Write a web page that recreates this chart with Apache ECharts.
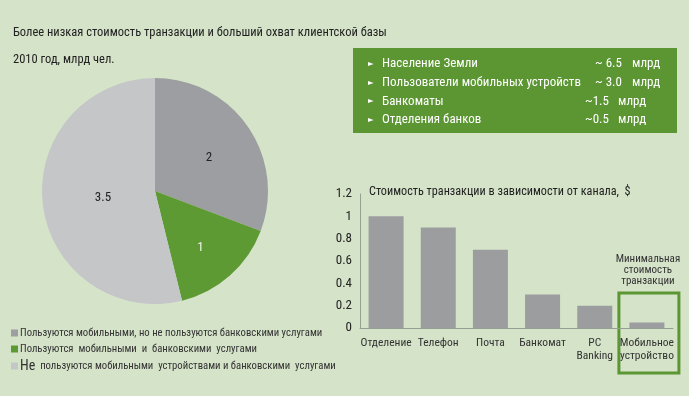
<!DOCTYPE html>
<html>
<head>
<meta charset="utf-8">
<script src="https://cdn.jsdelivr.net/npm/echarts@6/dist/echarts.min.js"></script>
<style>
  html, body { margin: 0; padding: 0; background: #d5e3c9; }
  #main { width: 689px; height: 396px; }
</style>
</head>
<body>
<div id="main"></div>
<script>
// данные: структура населения, млрд чел.
const pieNames = [
  'Пользуются мобильными, но не пользуются банковскими услугами',
  'Пользуются  мобильными  и  банковскими  услугами',
  'Не  пользуются мобильными  устройствами и банковскими  услугами'
];
const pieValues = [2, 1, 3.5];

// стоимость транзакции по каналам, $
const channels = ['Отделение', 'Телефон', 'Почта', 'Банкомат', 'PC\nBanking', 'Мобильное\nустройство'];
const costs = [1.0, 0.9, 0.7, 0.3, 0.2, 0.05];

// справка в зелёном блоке
const factNames = ['Население Земли', 'Пользователи мобильных устройств', 'Банкоматы', 'Отделения банков'];
const factValues = ['~ 6.5', '~ 3.0', '~1.5', '~0.5'];

const FONT = '"Roboto Condensed", "DejaVu Sans Condensed", sans-serif';
const pieColors = ['#9d9ea1', '#5e9a34', '#c4c6c8'];
const pieLabelColors = ['#222', '#eef4e6', '#222'];
const pieLabelOffsets = [[5, 1], [6, 12], [7, 0]];

const chart = echarts.init(document.getElementById('main'));

const factGraphics = [];
factNames.forEach((name, i) => {
  const y = 64 + i * 18.7;
  factGraphics.push(
    { type: 'text', x: 368, y: y, style: { text: '►', fill: '#fff', font: '8px ' + FONT, verticalAlign: 'middle' } },
    { type: 'text', x: 382, y: y, style: { text: name, fill: '#fff', font: '13px ' + FONT, verticalAlign: 'middle' } },
    { type: 'text', x: i < 2 ? 595 : 585, y: y, style: { text: factValues[i], fill: '#fff', font: '13px ' + FONT, verticalAlign: 'middle' } },
    { type: 'text', x: i < 2 ? 632 : 618, y: y, style: { text: 'млрд', fill: '#fff', font: '13px ' + FONT, verticalAlign: 'middle' } }
  );
});

const titleStyle = { fontSize: 12.5, fontWeight: 'normal', color: '#222', fontFamily: FONT };

const option = {
  backgroundColor: '#d5e3c9',
  animation: false,
  textStyle: { fontFamily: FONT },
  title: [
    { text: 'Более низкая стоимость транзакции и больший охват клиентской базы', left: 13, top: 26, padding: 0, textStyle: titleStyle },
    { text: '2010 год, млрд чел.', left: 13, top: 53, padding: 0, textStyle: titleStyle },
    { text: 'Стоимость транзакции в зависимости от канала,  $', left: 369, top: 186, padding: 0, textStyle: Object.assign({}, titleStyle, { fontSize: 12.2 }) }
  ],
  legend: {
    orient: 'vertical',
    left: 6, top: 322,
    icon: 'rect',
    itemWidth: 7, itemHeight: 7,
    itemGap: 4,
    selectedMode: false,
    data: pieNames,
    formatter: function (name) {
      return name.indexOf('Не ') === 0 ? '{big|Не}' + name.slice(2) : name;
    },
    textStyle: {
      fontSize: 10.7, color: '#333', fontFamily: FONT, lineHeight: 12, padding: [0, 0, 0, -3],
      rich: { big: { fontSize: 14, lineHeight: 12, color: '#333', fontFamily: FONT } }
    }
  },
  grid: { left: 360, right: 16, top: 194, bottom: 68 },
  xAxis: {
    type: 'category',
    data: channels,
    axisTick: { show: false },
    axisLine: { lineStyle: { color: '#96a092', width: 1 } },
    axisLabel: { color: '#333', fontSize: 11.5, margin: 9, lineHeight: 13, fontFamily: FONT, interval: 0 }
  },
  yAxis: {
    type: 'value',
    min: 0, max: 1.2, interval: 0.2,
    splitLine: { show: false },
    axisLine: { show: true, lineStyle: { color: '#96a092', width: 1 } },
    axisTick: { show: false },
    axisLabel: { color: '#222', fontSize: 13, margin: 8, fontFamily: FONT }
  },
  series: [
    {
      type: 'pie',
      center: [155, 191],
      radius: 113,
      startAngle: 90,
      clockwise: true,
      silent: true,
      label: { position: 'inside', fontSize: 13, fontFamily: FONT, formatter: '{c}' },
      labelLine: { show: false },
      itemStyle: { borderWidth: 0 },
      data: pieValues.map((v, i) => ({
        name: pieNames[i],
        value: v,
        itemStyle: { color: pieColors[i] },
        label: { color: pieLabelColors[i], offset: pieLabelOffsets[i] }
      }))
    },
    {
      type: 'bar',
      data: costs,
      barWidth: 35,
      silent: true,
      itemStyle: { color: '#9c9d9f' }
    }
  ],
  graphic: [
    { type: 'rect', shape: { x: 353, y: 48, width: 324, height: 85 }, style: { fill: '#5b9632' } }
  ].concat(factGraphics)
};

chart.setOption(option);

// рамка вокруг последнего столбика и подпись
const last = channels.length - 1;
const p = chart.convertToPixel({ gridIndex: 0 }, [last, 0]);
chart.setOption({
  graphic: option.graphic.concat([
    {
      type: 'rect',
      shape: { x: p[0] - 28, y: p[1] - 35, width: 60, height: 80 },
      style: { fill: 'none', stroke: '#5b9632', lineWidth: 3 }
    },
    {
      type: 'text',
      x: p[0] + 1, y: p[1] - 58,
      style: {
        text: 'Минимальная\nстоимость\nтранзакции',
        align: 'center', verticalAlign: 'middle',
        fill: '#333', font: '11px ' + FONT, lineHeight: 11
      }
    }
  ])
});
</script>
</body>
</html>
